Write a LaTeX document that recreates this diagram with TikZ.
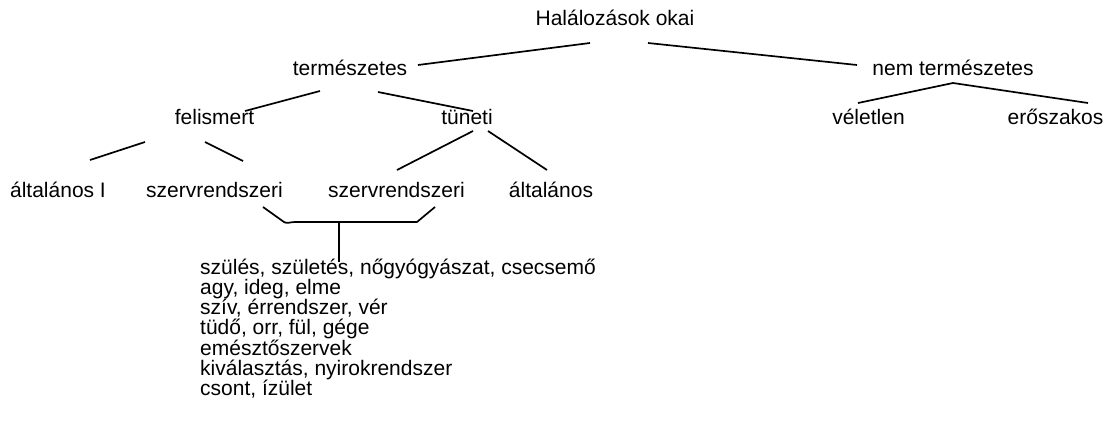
\documentclass[tikz,border=0pt]{standalone}
\usepackage{fontspec}
\setmainfont{Liberation Sans}
\begin{document}
\begin{tikzpicture}[x=1pt,y=-1pt,
  lbl/.style={inner sep=0pt,anchor=base,font=\fontsize{21}{20.3}\selectfont},
  item/.style={lbl,anchor=base west},
  conn/.style={line width=1.7pt}]
\useasboundingbox (0,0) rectangle (1107,423);
% nodes
\node[lbl] (root) at (615,25) {Halálozások okai};
\node[lbl] (nat) at (350,75) {természetes};
\node[lbl] (unnat) at (953,75) {nem természetes};
\node[lbl] (fel) at (214.5,124) {felismert};
\node[lbl] (tun) at (467,124) {tüneti};
\node[lbl] (vel) at (868.5,124) {véletlen};
\node[lbl] (ero) at (1055.5,124) {erőszakos};
\node[lbl] (alt1) at (58,197) {általános I};
\node[lbl] (sz1) at (214.5,197) {szervrendszeri};
\node[lbl] (sz2) at (396.5,197) {szervrendszeri};
\node[lbl] (alt2) at (551,197) {általános};
\node[item] (l1) at (200,274) {szülés, születés, nőgyógyászat, csecsemő};
\node[item] (l2) at (200,294.3) {agy, ideg, elme};
\node[item] (l3) at (200,314.6) {szív, érrendszer, vér};
\node[item] (l4) at (200,334.9) {tüdő, orr, fül, gége};
\node[item] (l5) at (200,355.2) {emésztőszervek};
\node[item] (l6) at (200,375.5) {kiválasztás, nyirokrendszer};
\node[item] (l7) at (200,395.8) {csont, ízület};
% connector end points
\coordinate (r1) at (590,43); \coordinate (n1) at (418,65);
\coordinate (r2) at (648,43); \coordinate (u1) at (857,65);
\coordinate (n2) at (320,91); \coordinate (f1) at (245,111);
\coordinate (n3) at (378,92); \coordinate (t1) at (473,111);
\coordinate (f2) at (145,142); \coordinate (a1) at (90,160);
\coordinate (f3) at (205,142); \coordinate (s1) at (243,161);
\coordinate (t2) at (473,131); \coordinate (s2) at (397,170);
\coordinate (t3) at (488,131); \coordinate (a2) at (547,170);
\coordinate (u2) at (953,83); \coordinate (v1) at (858,103); \coordinate (e1) at (1088,103);
\coordinate (b1) at (263,207); \coordinate (b2) at (435,207);
\coordinate (bm) at (339,222); \coordinate (bs) at (339,262);
% connectors
\draw[conn] (r1) -- (n1);
\draw[conn] (r2) -- (u1);
\draw[conn] (n2) -- (f1);
\draw[conn] (n3) -- (t1);
\draw[conn] (f2) -- (a1);
\draw[conn] (f3) -- (s1);
\draw[conn] (t2) -- (s2);
\draw[conn] (t3) -- (a2);
\draw[conn] (v1) -- (u2) -- (e1);
\draw[conn] (b1) -- (284,222) .. controls (287,224) and (290,222) .. (295,222) -- (417,222) -- (b2);
\draw[conn] (bm) -- (bs);
\end{tikzpicture}
\end{document}
